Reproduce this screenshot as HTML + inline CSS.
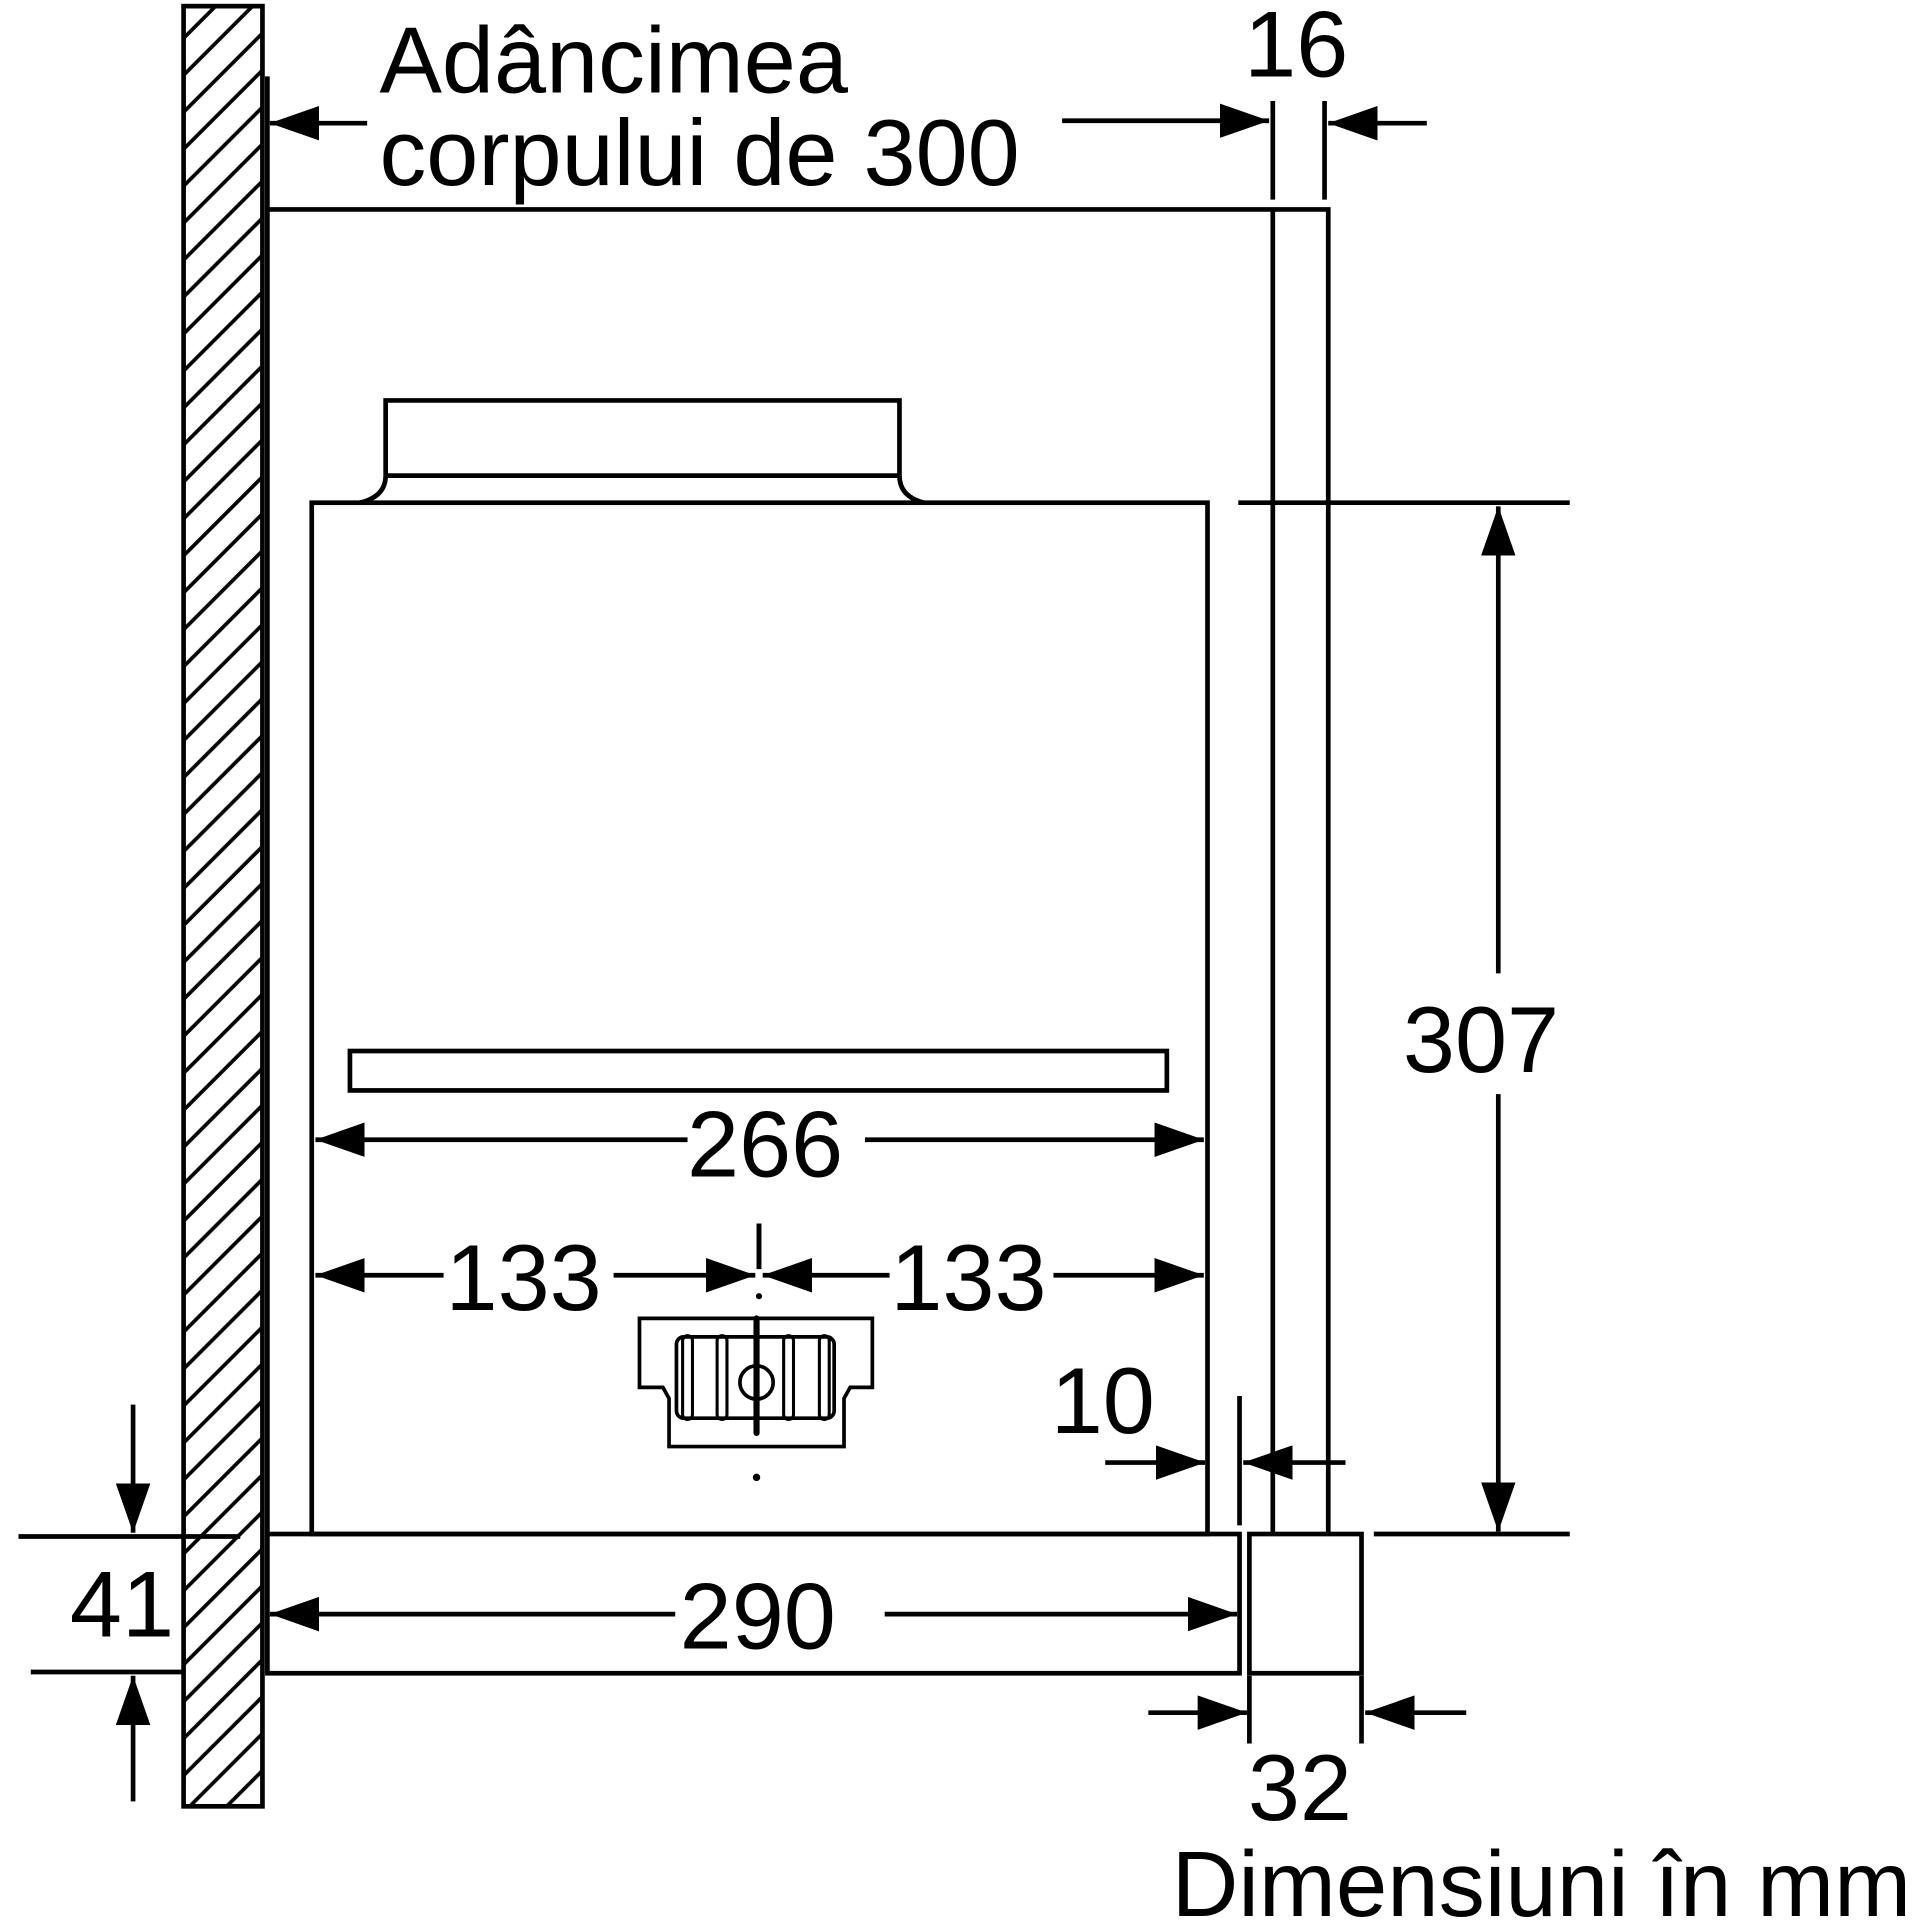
<!DOCTYPE html>
<html><head><meta charset="utf-8"><style>html,body{margin:0;padding:0;background:#fff}svg{display:block}</style></head><body>
<svg width="1932" height="1932" viewBox="0 0 1568 1568" xmlns="http://www.w3.org/2000/svg">
<defs>
<pattern id="h" width="30" height="30" patternUnits="userSpaceOnUse">
<path d="M-5,35 L35,-5 M-35,35 L35,-35 M-5,65 L65,-5" stroke="#000" stroke-width="3"/>
</pattern>
<marker id="a" viewBox="0 0 40 28" refX="40" refY="14" markerWidth="40" markerHeight="28" markerUnits="userSpaceOnUse" orient="auto"><path d="M0,0 L40,14 L0,28 Z" fill="#000"/></marker>
</defs>
<g fill="none" stroke="#000" stroke-width="3.8">
<rect x="149" y="5" width="64" height="1461" fill="url(#h)"/>
<line x1="217" y1="62" x2="217" y2="170"/>
<polyline points="217,170 1078,170 1078,1245"/>
<line x1="1033" y1="170" x2="1033" y2="1245"/>
<line x1="1033" y1="82" x2="1033" y2="162"/>
<line x1="1075" y1="82" x2="1075" y2="162"/>
<rect x="217" y="1245" width="789" height="113"/>
<rect x="1014" y="1245" width="91" height="113"/>
<line x1="217" y1="170" x2="217" y2="1245"/>
<rect x="253" y="408" width="727" height="837"/>
<path d="M313,386 L313,325 L730,325 L730,386"/>
<line x1="313" y1="386" x2="730" y2="386"/>
<path d="M292,408 Q313,403 313,386 M750,408 Q730,403 730,386"/>
<rect x="284" y="853" width="663" height="32"/>
<line x1="1006" y1="1133" x2="1006" y2="1238"/>
<!-- dims -->
<line x1="298" y1="100" x2="219" y2="100" marker-end="url(#a)"/>
<line x1="862" y1="98" x2="1030" y2="98" marker-end="url(#a)"/>
<line x1="1158" y1="100" x2="1078" y2="100" marker-end="url(#a)"/>
<line x1="1005" y1="408" x2="1274" y2="408"/>
<line x1="1115" y1="1245" x2="1274" y2="1245"/>
<line x1="1216" y1="790" x2="1216" y2="411" marker-end="url(#a)"/>
<line x1="1216" y1="888" x2="1216" y2="1243" marker-end="url(#a)"/>
<line x1="558" y1="925" x2="256" y2="925" marker-end="url(#a)"/>
<line x1="702" y1="925" x2="977" y2="925" marker-end="url(#a)"/>
<line x1="360" y1="1035" x2="256" y2="1035" marker-end="url(#a)"/>
<line x1="498" y1="1035" x2="613" y2="1035" marker-end="url(#a)"/>
<line x1="722" y1="1035" x2="619" y2="1035" marker-end="url(#a)"/>
<line x1="855" y1="1035" x2="977" y2="1035" marker-end="url(#a)"/>
<line x1="897" y1="1187" x2="978" y2="1187" marker-end="url(#a)"/>
<line x1="1092" y1="1187" x2="1009" y2="1187" marker-end="url(#a)"/>
<line x1="548" y1="1310" x2="219" y2="1310" marker-end="url(#a)"/>
<line x1="718" y1="1310" x2="1004" y2="1310" marker-end="url(#a)"/>
<line x1="15" y1="1247" x2="195" y2="1247"/>
<line x1="25" y1="1357" x2="150" y2="1357"/>
<line x1="108" y1="1140" x2="108" y2="1244" marker-end="url(#a)"/>
<line x1="108" y1="1462" x2="108" y2="1360" marker-end="url(#a)"/>
<line x1="1014" y1="1360" x2="1014" y2="1415"/>
<line x1="1105" y1="1360" x2="1105" y2="1415"/>
<line x1="932" y1="1390" x2="1012" y2="1390" marker-end="url(#a)"/>
<line x1="1190" y1="1390" x2="1108" y2="1390" marker-end="url(#a)"/>
<!-- fan -->
<path d="M519,1070 L708,1070 L708,1126 L690,1126 L685,1135 L685,1174 L543,1174 L543,1135 L538,1126 L519,1126 Z" stroke-width="3"/>
<rect x="549" y="1085" width="128" height="66" rx="6" stroke-width="3"/>
<g stroke-width="2.5">
<rect x="554" y="1084" width="8" height="68" rx="4"/>
<rect x="582" y="1084" width="8" height="68" rx="4"/>
<rect x="636" y="1084" width="8" height="68" rx="4"/>
<rect x="665" y="1084" width="8" height="68" rx="4"/>
</g>
<circle cx="614" cy="1122" r="13.5" stroke-width="3"/>
<line x1="616" y1="993" x2="616" y2="1030" stroke-width="4"/>
<line x1="614" y1="1070" x2="614" y2="1163" stroke-width="5" stroke-linecap="round"/>
</g>
<circle cx="616" cy="1052" r="2.5"/>
<circle cx="614" cy="1199" r="3"/>
<g font-family="Liberation Sans, sans-serif" fill="#000" font-size="76">
<text x="308" y="75">Adâncimea</text>
<text x="308" y="150">corpului de 300</text>
<text x="1052" y="62" text-anchor="middle">16</text>
<text x="1202" y="870" text-anchor="middle">307</text>
<text x="621" y="955" text-anchor="middle">266</text>
<text x="425" y="1063" text-anchor="middle">133</text>
<text x="786" y="1063" text-anchor="middle">133</text>
<text x="895" y="1163" text-anchor="middle">10</text>
<text x="615" y="1338" text-anchor="middle">290</text>
<text x="99" y="1328" text-anchor="middle">41</text>
<text x="1055" y="1477" text-anchor="middle">32</text>
<text x="1551" y="1555" text-anchor="end" font-size="75">Dimensiuni în mm</text>
</g>
</svg>
</body></html>
